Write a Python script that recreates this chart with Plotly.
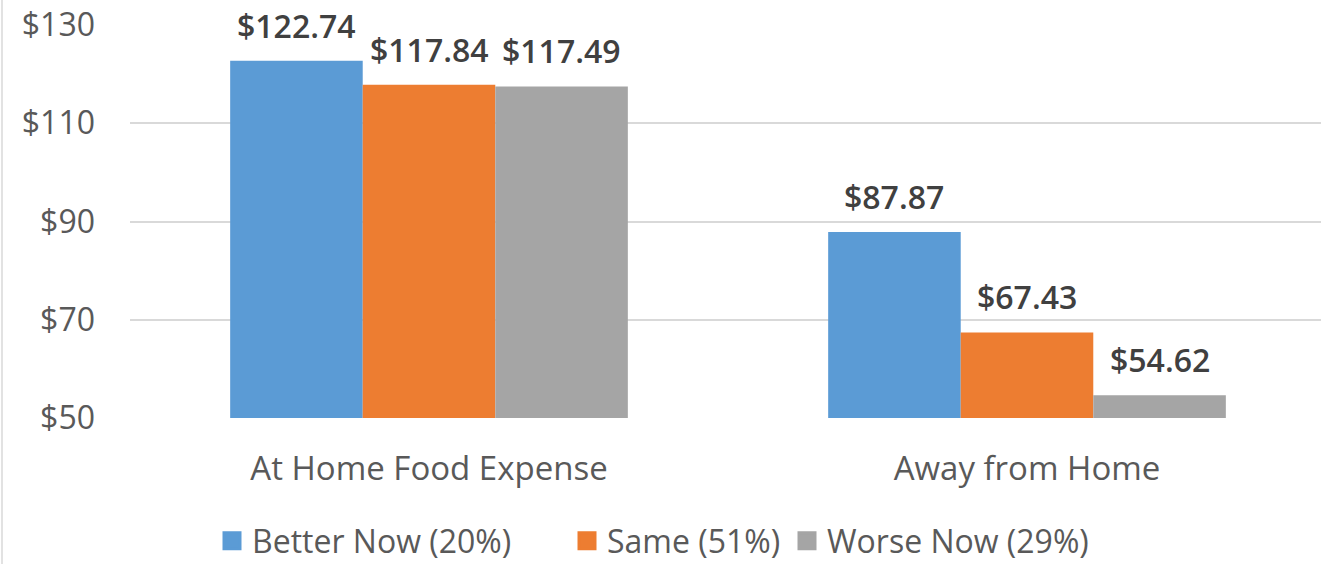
import plotly.graph_objects as go

categories = ["At Home Food Expense", "Away from Home"]
series_names = ["Better Now (20%)", "Same (51%)", "Worse Now (29%)"]
better_now = [122.74, 87.87]
same = [117.84, 67.43]
worse_now = [117.49, 54.62]
y_ticks = [50, 70, 90, 110, 130]
y_tick_labels = ["$50", "$70", "$90", "$110", "$130"]

colors = ["#5B9BD5", "#ED7D31", "#A5A5A5"]
FONT = "Open Sans"
TXT = "#595959"
LBL = "#404040"

W, H = 1321, 564
ML, MR, MT, MB = 130, 0, 25, 146
PW = W - ML - MR
PH = H - MT - MB
BARGAP = 0.335
CAT_PX = 598  # pixels per category
x_range = [-0.5, -0.5 + PW / CAT_PX]
bar_px = CAT_PX * (1 - BARGAP) / 3
legend_left_px = [212, 567, 787]

fig = go.Figure()
annotations = []
legends = {}
all_series = [better_now, same, worse_now]
for i, (name, vals, col) in enumerate(zip(series_names, all_series, colors)):
    lg = "legend" if i == 0 else f"legend{i + 1}"
    fig.add_trace(go.Bar(
        x=categories, y=vals, name=name,
        marker=dict(color=col, line=dict(width=0)),
        showlegend=False,
        cliponaxis=False,
    ))
    # legend proxy (bigger square swatch)
    fig.add_trace(go.Scatter(
        x=[None], y=[None], name=name, mode="markers", legend=lg,
        marker=dict(symbol="square", size=16, color=col,
                    line=dict(color=col, width=3)),
    ))
    legends[lg] = dict(
        orientation="h", x=legend_left_px[i] / W, xanchor="left",
        xref="container", y=0.041, yanchor="middle", yref="container",
        font=dict(family=FONT, size=32, color=TXT),
        itemwidth=30, itemsizing="trace", bgcolor="rgba(0,0,0,0)",
        borderwidth=0,
    )
    for cat, v in zip(categories, vals):
        annotations.append(dict(
            x=cat, y=v, xref="x", yref="y",
            text=f"${v:.2f}", showarrow=False,
            xanchor="center", yanchor="bottom",
            xshift=(i - 1) * bar_px, yshift=12,
            font=dict(family=FONT, size=32, color=LBL, weight=600),
        ))

fig.update_layout(
    width=W, height=H,
    margin=dict(l=ML, r=MR, t=MT, b=MB, autoexpand=False),
    paper_bgcolor="white", plot_bgcolor="white",
    barmode="group", bargap=BARGAP, bargroupgap=0,
    font=dict(family=FONT, color=TXT),
    showlegend=True,
    xaxis=dict(
        range=x_range,
        tickfont=dict(family=FONT, size=33, color=TXT),
        showgrid=False, zeroline=False, showline=False,
        ticks="", ticklabelstandoff=28, automargin=False,
    ),
    yaxis=dict(
        range=[50, 130], tickvals=y_ticks, ticktext=y_tick_labels,
        tickfont=dict(family=FONT, size=32, color=TXT),
        showgrid=True, gridcolor="#D9D9D9", gridwidth=1.5,
        zeroline=False, showline=False, ticks="", ticklabelstandoff=34,
        automargin=False,
    ),
    annotations=annotations,
    shapes=[dict(type="line", xref="paper", yref="paper",
                 x0=-(ML - 2) / PW, x1=-(ML - 2) / PW,
                 y0=-MB / PH, y1=1 + MT / PH,
                 line=dict(color="#D9D9D9", width=1.5))],
    **legends,
)

fig.write_html("out.html",
               config={"displayModeBar": False},
               post_script="document.body.style.margin='0';document.body.style.overflow='hidden';")
